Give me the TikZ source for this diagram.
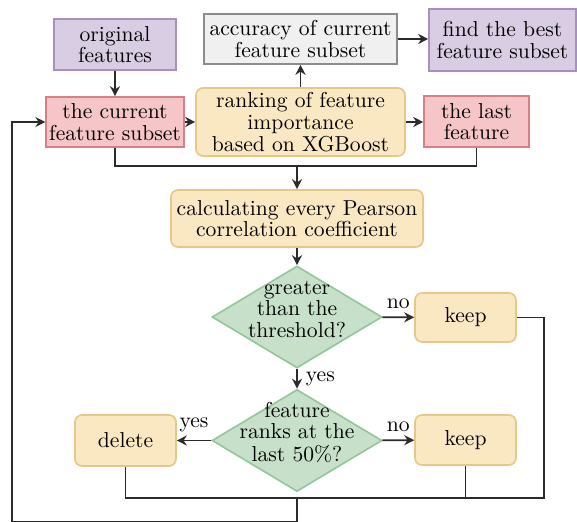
\documentclass[tikz,border=0pt]{standalone}
\usepackage{tikz}
\usetikzlibrary{arrows.meta,calc,positioning,shapes.geometric}
\definecolor{purplefill}{HTML}{D9CDE3}
\definecolor{purpleline}{HTML}{A98FC0}
\definecolor{redfill}{HTML}{F5C5C7}
\definecolor{redline}{HTML}{D77F84}
\definecolor{grayfill}{HTML}{F0F0F0}
\definecolor{grayline}{HTML}{8C8C8C}
\definecolor{yellowfill}{HTML}{FAE8C3}
\definecolor{yellowline}{HTML}{E5C787}
\definecolor{greenfill}{HTML}{C7E0CA}
\definecolor{greenline}{HTML}{93C59A}
\definecolor{linecol}{HTML}{2B2B2B}
\newcommand{\flattext}[1]{\makebox[0pt]{\smash{\begin{tabular}{@{}c@{}}#1\end{tabular}}}}
\tikzset{%
	box/.style      = {rectangle, line width=0.8pt, align=center, inner sep=1.5pt, font=\fontsize{10.8}{10.85}\selectfont},
	feature/.style  = {box, draw=purpleline, fill=purplefill},
	subset/.style   = {box, draw=redline, fill=redfill},
	result/.style   = {box, draw=grayline, fill=grayfill},
	process/.style  = {box, draw=yellowline, fill=yellowfill, rounded corners=3.5pt},
	decision/.style = {diamond, draw=greenline, fill=greenfill, line width=0.8pt, inner sep=0pt, minimum width=85pt, minimum height=51pt, font=\fontsize{10.8}{10.85}\selectfont},
	arrow/.style    = {line width=0.9pt, draw=linecol, -{Stealth[length=5pt,width=5pt]}},
	link/.style     = {line width=0.9pt, draw=linecol},
	tag/.style      = {font=\fontsize{10.8}{10.85}\selectfont, inner sep=4pt},
}

\begin{document}
\begin{tikzpicture}[x=0.5pt,y=-0.5pt]
	\useasboundingbox (0,0) rectangle (577,522);

	% top row
	\node[feature, minimum width=61pt, minimum height=25.5pt] (orig) at (115,44.5) {original\\features};
	\node[result, minimum width=96.5pt, minimum height=25pt] (acc) at (300.5,39) {accuracy of current\\feature subset};
	\node[feature, minimum width=73.5pt, minimum height=31pt] (best) at (502.5,40) {find the best\\feature subset};

	% second row
	\node[subset, minimum width=66pt, minimum height=25pt] (cur) at (115,122) {the current\\feature subset};
	\node[process, minimum width=104.5pt, minimum height=34pt] (rank) at (300.5,122) {ranking of feature\\importance\\based on XGBoost};
	\node[subset, minimum width=52.5pt, minimum height=25.5pt] (last) at (476.5,121.5) {the last\\feature};

	% filtering
	\node[process, minimum width=126pt, minimum height=28.5pt] (calc) at (297,218.5) {calculating every Pearson\\correlation coefficient};
	\node[decision] (dec1) at (297,317) {\flattext{greater\\than the\\threshold?}};
	\node[process, minimum width=50.5pt, minimum height=24.5pt] (keep1) at (465.5,317.5) {keep};
	\node[decision] (dec2) at (297,440.5) {\flattext{feature\\ranks at the\\last 50\%?}};
	\node[process, minimum width=50.5pt, minimum height=25.5pt] (del) at (125.5,440.5) {delete};
	\node[process, minimum width=50.5pt, minimum height=25pt] (keep2) at (465.5,440) {keep};

	\coordinate (jtop) at (297,166);
	\coordinate (jbot) at (297,498);
	\coordinate (rc) at (544,498);
	\coordinate (floor) at (12,522);

	\draw[arrow] (orig) -- (cur);
	\draw[arrow] (cur) -- (rank);
	\draw[arrow] (rank) -- (acc);
	\draw[arrow] (acc.east) -- (acc.east -| best.west);
	\draw[arrow] (rank.east) -- (rank.east -| last.west);

	\draw[link] (cur.south) |- (jtop) -| (last.south);
	\draw[arrow] (jtop) -- (calc);
	\draw[arrow] (calc) -- (dec1);
	\draw[arrow] (dec1) -- node[tag, above] {no} (keep1);
	\draw[arrow] (dec1) -- node[tag, right] {yes} (dec2);
	\draw[arrow] (dec2) -- node[tag, above] {yes} (del);
	\draw[arrow] (dec2) -- node[tag, above] {no} (keep2);

	\draw[link] (keep1.east) -| (rc) -- (del.south |- rc) -- (del.south);
	\draw[link] (keep2.south) -- (keep2.south |- rc);
	\draw[arrow] (jbot) |- (floor) |- (cur.west);

\end{tikzpicture}
\end{document}
